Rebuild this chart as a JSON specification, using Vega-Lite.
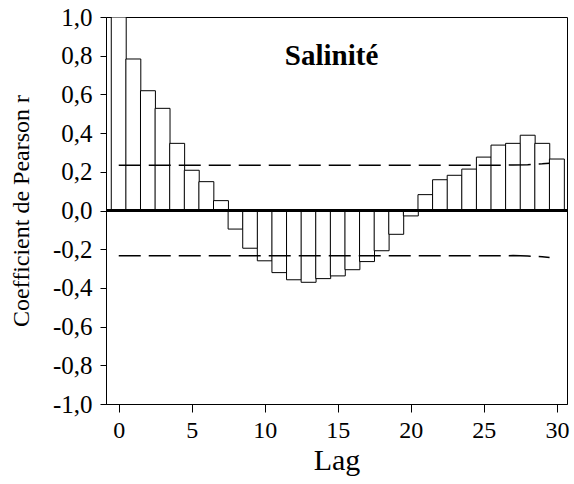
{
  "$schema": "https://vega.github.io/schema/vega-lite/v6.json",
  "width": 461,
  "height": 387,
  "autosize": "none",
  "padding": {"left": 106, "top": 17, "right": 7, "bottom": 80},
  "background": "white",
  "config": {
    "view": {"stroke": "black", "strokeWidth": 1},
    "font": "Liberation Serif",
    "axis": {"labelFont": "Liberation Serif", "titleFont": "Liberation Serif", "labelColor": "black", "titleColor": "black", "domainColor": "black", "tickColor": "black", "grid": false, "titleFontWeight": "normal", "labelFlush": false}
  },
  "datasets": {
    "acf": [
      {"lag": 0, "r": 1.0}, {"lag": 1, "r": 0.783}, {"lag": 2, "r": 0.619}, {"lag": 3, "r": 0.528},
      {"lag": 4, "r": 0.347}, {"lag": 5, "r": 0.208}, {"lag": 6, "r": 0.149}, {"lag": 7, "r": 0.051},
      {"lag": 8, "r": -0.096}, {"lag": 9, "r": -0.195}, {"lag": 10, "r": -0.26}, {"lag": 11, "r": -0.321},
      {"lag": 12, "r": -0.358}, {"lag": 13, "r": -0.371}, {"lag": 14, "r": -0.352}, {"lag": 15, "r": -0.338},
      {"lag": 16, "r": -0.306}, {"lag": 17, "r": -0.264}, {"lag": 18, "r": -0.208}, {"lag": 19, "r": -0.123},
      {"lag": 20, "r": -0.028}, {"lag": 21, "r": 0.082}, {"lag": 22, "r": 0.159}, {"lag": 23, "r": 0.182},
      {"lag": 24, "r": 0.214}, {"lag": 25, "r": 0.276}, {"lag": 26, "r": 0.338}, {"lag": 27, "r": 0.347},
      {"lag": 28, "r": 0.389}, {"lag": 29, "r": 0.347}, {"lag": 30, "r": 0.266}
    ],
    "bounds": [
      {"lag": 0, "r": 0.234, "side": "upper"}, {"lag": 26, "r": 0.234, "side": "upper"},
      {"lag": 27, "r": 0.235, "side": "upper"}, {"lag": 28, "r": 0.237, "side": "upper"},
      {"lag": 29, "r": 0.241, "side": "upper"}, {"lag": 29.5, "r": 0.244, "side": "upper"},
      {"lag": 0, "r": -0.234, "side": "lower"}, {"lag": 26, "r": -0.234, "side": "lower"},
      {"lag": 27, "r": -0.233, "side": "lower"}, {"lag": 28, "r": -0.235, "side": "lower"},
      {"lag": 29, "r": -0.239, "side": "lower"}, {"lag": 29.5, "r": -0.243, "side": "lower"}
    ],
    "title": [{"label": "Salinité", "lag": 14.57, "r": 0.80}]
  },
  "layer": [
    {
      "data": {"name": "acf"},
      "mark": {"type": "bar", "width": 14.93, "fill": "white", "stroke": "black", "strokeWidth": 1, "clip": true},
      "encoding": {
        "x": {"field": "lag", "type": "quantitative",
              "scale": {"domain": [-0.53, 30.35], "nice": false, "zero": false},
              "axis": {"values": [0, 5, 10, 15, 20, 25, 30], "labelFontSize": 24, "labelPadding": 6, "tickSize": 8,
                       "title": "Lag", "titleFontSize": 30, "titlePadding": 3}},
        "y": {"field": "r", "type": "quantitative",
              "scale": {"domain": [-1, 1], "nice": false},
              "axis": {"tickCount": 10,
                       "labelOverlap": false,
                       "labelSeparation": 0,
                       "labelExpr": "(datum.value < -0.001 ? '-' : '') + replace(format(abs(datum.value), '.1f'), '.', ',')",
                       "labelFontSize": 25, "labelPadding": 8, "tickSize": 6,
                       "title": "Coefficient de Pearson r", "titleFontSize": 24, "titlePadding": 19}},
        "y2": {"datum": 0}
      }
    },
    {
      "data": {"name": "acf"},
      "mark": {"type": "rule", "color": "black", "strokeWidth": 1.3},
      "encoding": {"y": {"datum": 0}}
    },
    {
      "data": {"name": "bounds"},
      "mark": {"type": "line", "color": "black", "strokeWidth": 1.5, "strokeDash": [22, 8]},
      "encoding": {
        "x": {"field": "lag", "type": "quantitative"},
        "y": {"field": "r", "type": "quantitative"},
        "detail": {"field": "side"}
      }
    },
    {
      "data": {"name": "title"},
      "mark": {"type": "text", "fontSize": 29, "fontWeight": "bold", "font": "serif", "color": "black", "baseline": "middle", "align": "center"},
      "encoding": {
        "x": {"field": "lag", "type": "quantitative"},
        "y": {"field": "r", "type": "quantitative"},
        "text": {"field": "label"}
      }
    }
  ]
}
